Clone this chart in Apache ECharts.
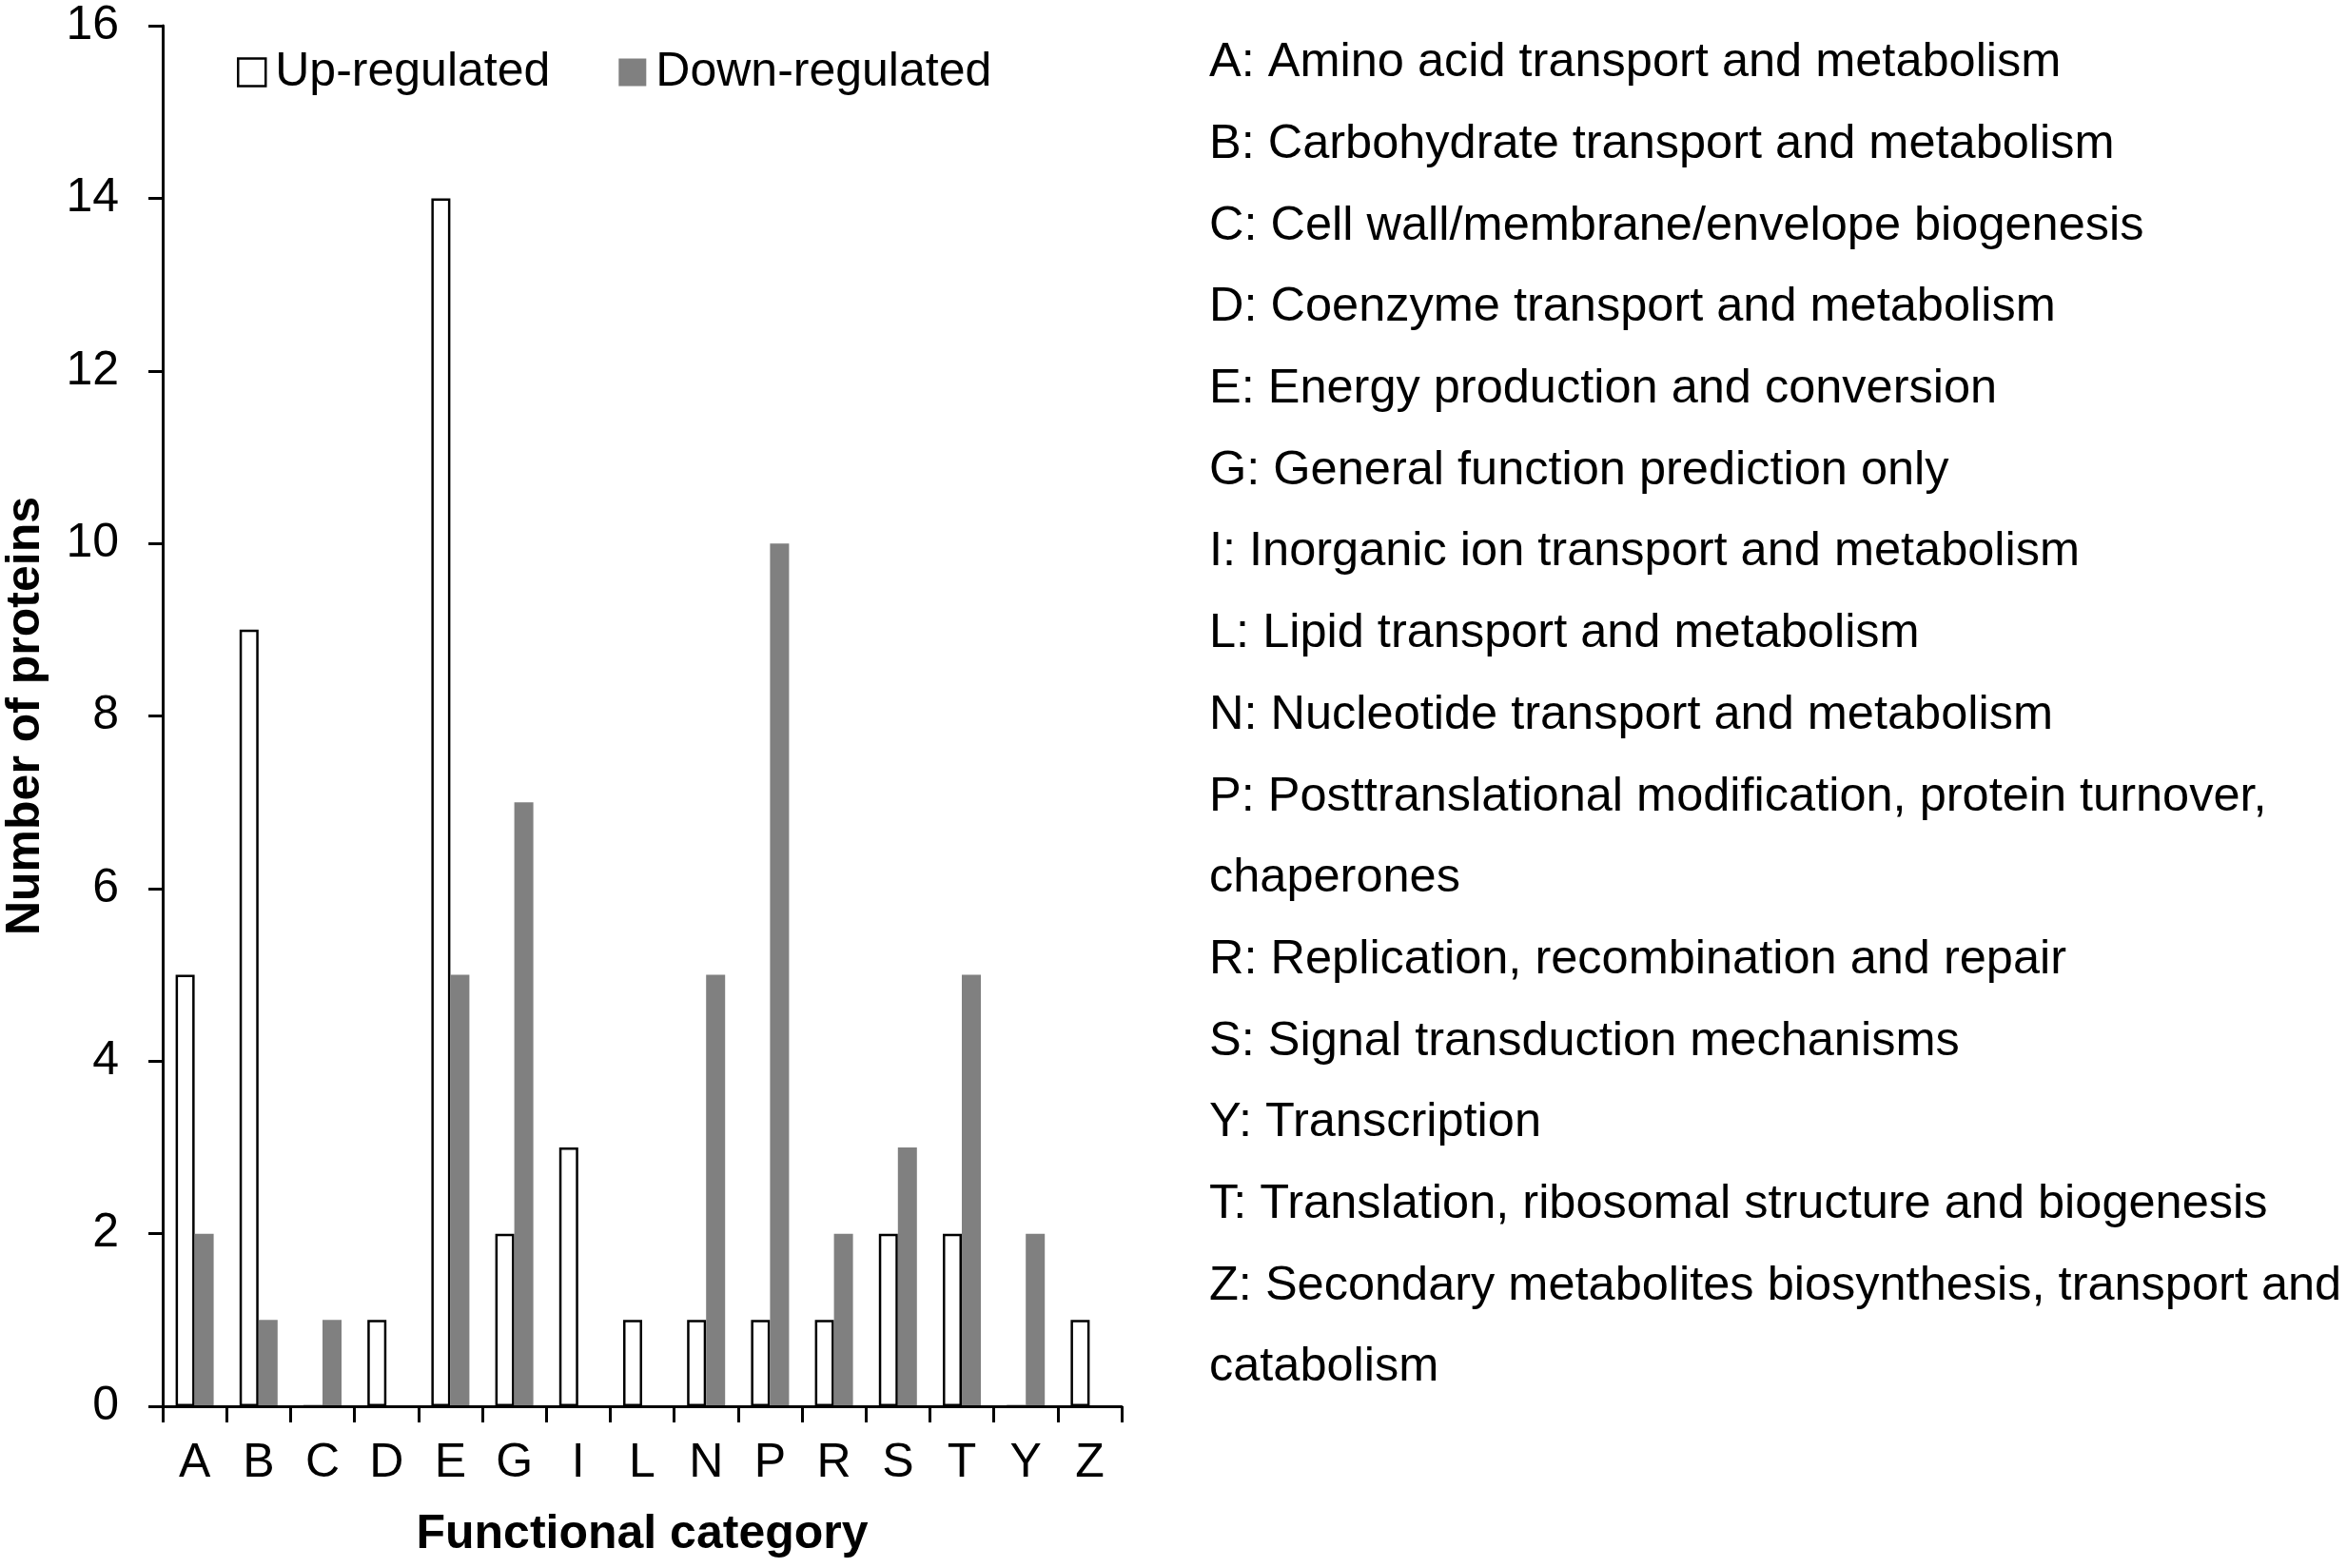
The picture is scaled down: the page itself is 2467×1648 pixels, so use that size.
<!DOCTYPE html>
<html>
<head>
<meta charset="utf-8">
<script src="https://cdn.jsdelivr.net/npm/echarts@6/dist/echarts.min.js"></script>
<style>
html,body{margin:0;padding:0;background:#fff;}
#chart{width:2467px;height:1648px;}
</style>
</head>
<body>
<div id="chart"></div>
<script>
const categories = ['A','B','C','D','E','G','I','L','N','P','R','S','T','Y','Z'];
const upRegulated = [5,9,0,1,14,2,3,1,1,1,1,2,2,0,1];
const downRegulated = [2,1,1,0,5,7,0,0,5,10,2,3,5,2,0];
const seriesNames = ['Up-regulated','Down-regulated'];
const yMin = 0, yMax = 16, yInterval = 2;
const xAxisTitle = 'Functional category';
const yAxisTitle = 'Number of proteins';
const descriptions = [
  'A: Amino acid transport and metabolism',
  'B: Carbohydrate transport and metabolism',
  'C: Cell wall/membrane/envelope biogenesis',
  'D: Coenzyme transport and metabolism',
  'E: Energy production and conversion',
  'G: General function prediction only',
  'I: Inorganic ion transport and metabolism',
  'L: Lipid transport and metabolism',
  'N: Nucleotide transport and metabolism',
  'P: Posttranslational modification, protein turnover,\nchaperones',
  'R: Replication, recombination and repair',
  'S: Signal transduction mechanisms',
  'Y: Transcription',
  'T: Translation, ribosomal structure and biogenesis',
  'Z: Secondary metabolites biosynthesis, transport and\ncatabolism'
];

const FONT = '"Liberation Sans", Arial, sans-serif';
const chart = echarts.init(document.getElementById('chart'), null, {renderer:'canvas'});
chart.setOption({
  backgroundColor: '#fff',
  animation: false,
  textStyle: {fontFamily: FONT, color: '#000'},
  grid: {left: 171, top: 27, right: 1288, bottom: 170, containLabel: false},
  legend: {
    left: 249, top: 51, padding: 0,
    itemWidth: 29, itemHeight: 29, itemGap: 72,
    icon: 'rect',
    textStyle: {fontFamily: FONT, fontSize: 50, color: '#000', padding: [0,0,0,5]},
    data: [
      {name: seriesNames[0], itemStyle: {color: '#fff', borderColor: '#000', borderWidth: 2.5}},
      {name: seriesNames[1], itemStyle: {color: '#808080', borderWidth: 0}}
    ]
  },
  xAxis: {
    type: 'category',
    data: categories,
    z: 5,
    name: xAxisTitle,
    nameLocation: 'middle',
    nameGap: 110,
    nameTextStyle: {fontFamily: FONT, fontSize: 50, fontWeight: 'bold', color: '#000'},
    axisLine: {show: true, lineStyle: {color: '#000', width: 3}},
    axisTick: {show: true, length: 17, lineStyle: {color: '#000', width: 3}},
    axisLabel: {fontFamily: FONT, fontSize: 50, color: '#000', margin: 35},
    splitLine: {show: false}
  },
  yAxis: {
    type: 'value',
    min: yMin, max: yMax, interval: yInterval,
    z: 5,
    name: yAxisTitle,
    nameLocation: 'middle',
    nameGap: 119,
    nameTextStyle: {fontFamily: FONT, fontSize: 50, fontWeight: 'bold', color: '#000'},
    axisLine: {show: true, lineStyle: {color: '#000', width: 3}},
    axisTick: {show: true, length: 15, lineStyle: {color: '#000', width: 3}},
    axisLabel: {fontFamily: FONT, fontSize: 50, color: '#000', margin: 46},
    splitLine: {show: false}
  },
  series: [
    {
      name: seriesNames[0], type: 'bar', data: upRegulated,
      barWidth: 20, barGap: '0%',
      itemStyle: {color: '#fff', borderColor: '#000', borderWidth: 2.5}
    },
    {
      name: seriesNames[1], type: 'bar', data: downRegulated,
      barWidth: 20, barGap: '0%',
      itemStyle: {color: '#808080', borderWidth: 0}
    }
  ],
  graphic: [{
    type: 'text',
    left: 1271, top: 23.5,
    style: {
      text: descriptions.join('\n'),
      font: '50.5px "Liberation Sans", Arial, sans-serif',
      fill: '#000',
      lineHeight: 85.7
    }
  }]
});
</script>
</body>
</html>
